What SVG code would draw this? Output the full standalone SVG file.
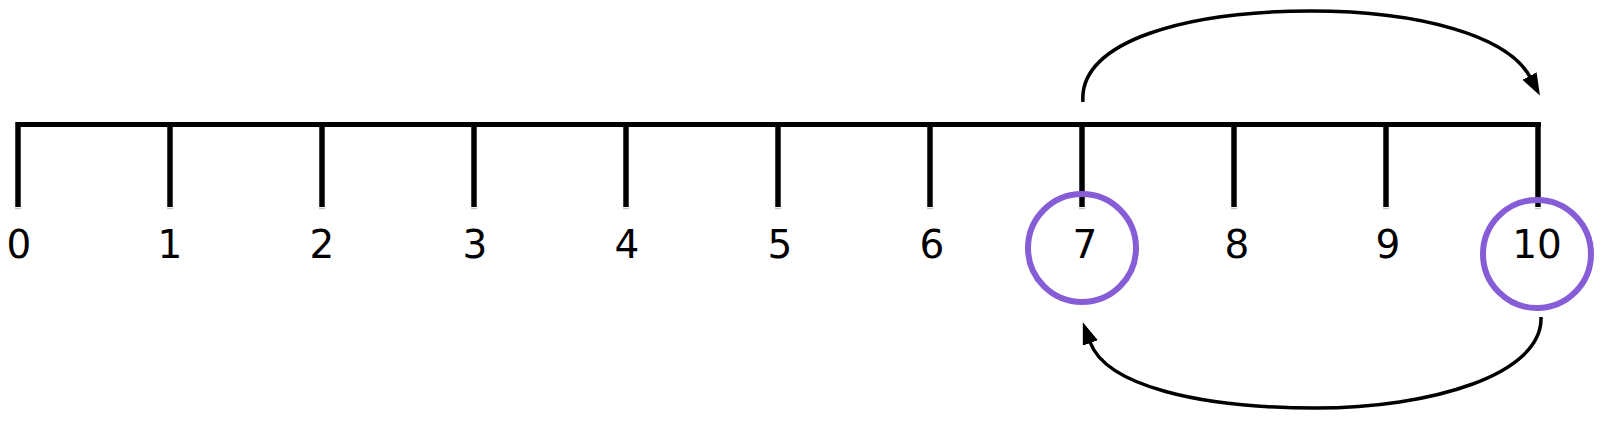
<svg xmlns="http://www.w3.org/2000/svg" width="1605" height="430" viewBox="0 0 1605 430">
<style>
.axis{stroke:#000;stroke-width:5;fill:none}
.tick{stroke:#000;stroke-width:5.5;fill:none}
.cap{stroke:#c8c8c8;stroke-width:1.5}
.lbl{font-family:"DejaVu Sans",sans-serif;font-size:39px;fill:#000;text-anchor:middle}
.ring{fill:none;stroke:#875DD7;stroke-width:6}
.arc{fill:none;stroke:#000;stroke-width:3.5}
</style>
<defs>
<marker id="ah" viewBox="0 0 22 16" refX="1" refY="8" markerUnits="userSpaceOnUse" markerWidth="22" markerHeight="16" orient="auto">
<path d="M0,0 L22,8 L0,16 Z" fill="#000"/>
</marker>
</defs>
<g id="axis">
<line class="axis" x1="16" y1="124.5" x2="1541" y2="124.5"/>
</g>
<g id="ticks">
<g id="t0"><line class="tick" x1="18" y1="122" x2="18" y2="207"/><line class="cap" x1="15" y1="208.5" x2="21" y2="208.5"/><text class="lbl" x="19" y="258">0</text></g>
<g id="t1"><line class="tick" x1="170" y1="122" x2="170" y2="207"/><line class="cap" x1="167" y1="208.5" x2="173" y2="208.5"/><text class="lbl" x="170" y="258">1</text></g>
<g id="t2"><line class="tick" x1="322" y1="122" x2="322" y2="207"/><line class="cap" x1="319" y1="208.5" x2="325" y2="208.5"/><text class="lbl" x="322" y="258">2</text></g>
<g id="t3"><line class="tick" x1="474" y1="122" x2="474" y2="207"/><line class="cap" x1="471" y1="208.5" x2="477" y2="208.5"/><text class="lbl" x="475" y="258">3</text></g>
<g id="t4"><line class="tick" x1="626" y1="122" x2="626" y2="207"/><line class="cap" x1="623" y1="208.5" x2="629" y2="208.5"/><text class="lbl" x="627" y="258">4</text></g>
<g id="t5"><line class="tick" x1="778" y1="122" x2="778" y2="207"/><line class="cap" x1="775" y1="208.5" x2="781" y2="208.5"/><text class="lbl" x="780" y="258">5</text></g>
<g id="t6"><line class="tick" x1="930" y1="122" x2="930" y2="207"/><line class="cap" x1="927" y1="208.5" x2="933" y2="208.5"/><text class="lbl" x="932" y="258">6</text></g>
<g id="t7"><line class="tick" x1="1082" y1="122" x2="1082" y2="207"/><line class="cap" x1="1079" y1="208.5" x2="1085" y2="208.5"/><text class="lbl" x="1085" y="258">7</text></g>
<g id="t8"><line class="tick" x1="1234" y1="122" x2="1234" y2="207"/><line class="cap" x1="1231" y1="208.5" x2="1237" y2="208.5"/><text class="lbl" x="1237" y="258">8</text></g>
<g id="t9"><line class="tick" x1="1386" y1="122" x2="1386" y2="207"/><line class="cap" x1="1383" y1="208.5" x2="1389" y2="208.5"/><text class="lbl" x="1388" y="258">9</text></g>
<g id="t10"><line class="tick" x1="1538" y1="122" x2="1538" y2="207"/><line class="cap" x1="1535" y1="208.5" x2="1541" y2="208.5"/><text class="lbl" x="1537" y="258">10</text></g>
</g>
<g id="ring7"><circle class="ring" cx="1082" cy="248" r="54"/></g>
<g id="ring10"><circle class="ring" cx="1537" cy="254" r="54"/></g>
<g id="connectors">
<path class="arc" marker-end="url(#ah)" d="M1083,102 C1078,40 1190,11 1311,11 C1420,11 1508,36 1530,77"/>
<path class="arc" marker-end="url(#ah)" d="M1541,317 C1543,375 1430,408 1316,408 C1200,408 1106,386 1090,342"/>
</g>
</svg>
